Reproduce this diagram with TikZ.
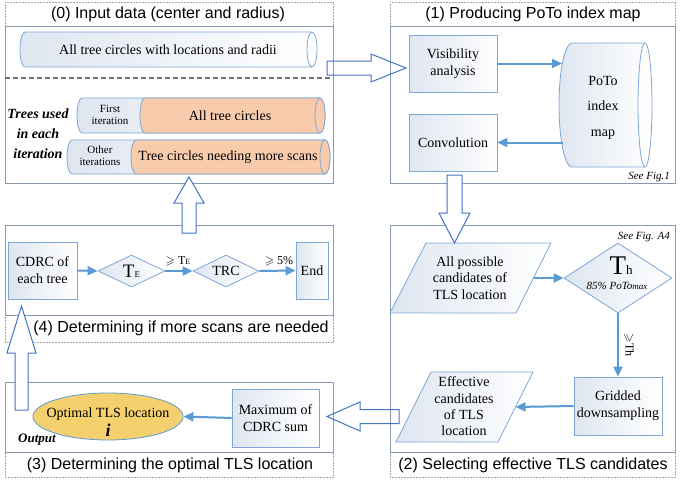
\documentclass[tikz,border=0pt]{standalone}
\usepackage{amssymb}
\usepackage{fontspec}
\setmainfont{Liberation Serif}
\newfontfamily\titlefont{Liberation Sans}
\usetikzlibrary{shapes.geometric,arrows.meta,calc}
\definecolor{lblue}{HTML}{5B9BD5}
\definecolor{bborder}{HTML}{7EA6D6}
\definecolor{panelgray}{HTML}{8A9AAE}
\definecolor{dotgray}{HTML}{A6A6A6}
\definecolor{orangef}{HTML}{F8CBAD}
\definecolor{yellowf}{HTML}{F4D06F}
\definecolor{hollowc}{HTML}{4472C4}
\definecolor{shadeblue}{HTML}{DFE6F1}
\definecolor{sepgray}{HTML}{6F6F6F}
\newcommand{\cylshape}[7]{%
  \pgfmathsetmacro{\cyry}{(#4-#3)/2}%
  \pgfmathsetmacro{\cycl}{#1+#5}%
  \pgfmathsetmacro{\cycr}{#2-#6}%
  \path[#7] (\cycl,-#3) -- (\cycr,-#3) arc[start angle=90,end angle=-90,x radius=#6pt,y radius=\cyry pt] -- (\cycl,-#4) arc[start angle=270,end angle=90,x radius=#5pt,y radius=\cyry pt] -- cycle;
  \draw[draw=bborder,line width=0.8pt] (\cycr,-#3) arc[start angle=90,end angle=270,x radius=#6pt,y radius=\cyry pt];
}
\begin{document}
\begin{tikzpicture}[x=1pt,y=1pt,
  every node/.style={font=\fontsize{14}{17}\selectfont, inner sep=0pt, align=center},
  panel/.style={draw=panelgray, line width=0.8pt, fill=white},
  titlebox/.style={draw=dotgray, densely dotted, line width=0.5pt},
  ptitle/.style={font=\titlefont\fontsize{16}{18}\selectfont},
  procbox/.style={draw=bborder, line width=0.8pt, left color=shadeblue, right color=white},
  dia/.style={diamond, shape aspect=2, draw=bborder, line width=0.8pt, left color=shadeblue, right color=white},
  shadefill/.style={draw=bborder, line width=0.8pt, left color=shadeblue, right color=white},
  orangefill/.style={draw=bborder, line width=0.8pt, fill=orangef},
  flow/.style={draw=lblue, line width=2pt, -{Triangle[length=10pt,width=9pt]}},
  hollow/.style={draw=hollowc, line width=1pt, line join=miter},
  small/.style={font=\fontsize{11}{12}\selectfont},
  note/.style={font=\itshape\fontsize{11}{12}\selectfont},
  lab/.style={font=\fontsize{12}{14}\selectfont}]
\useasboundingbox (0,0) rectangle (680,-482);
\fill[white] (0,0) rectangle (680,-482);

% ---------- Panel 0 ----------
\draw[titlebox] (5,-2) rectangle (333,-183);
\draw[panel] (5,-26) rectangle (333,-183);
\node[ptitle] (t0) at (168,-14) {(0) Input data (center and radius)};
\cylshape{20}{317}{32}{67}{5}{5}{shadefill}
\node (alltrees) at (168,-50) {All tree circles with locations and radii};
\draw[draw=sepgray, line width=2.8pt, dash pattern=on 5pt off 3pt] (5,-78) -- (330,-78);
\node[font=\bfseries\itshape\fontsize{14}{20}\selectfont] (used) at (38,-134) {Trees used\\in each\\iteration};
\cylshape{77}{325}{98}{133}{5}{5}{shadefill}
\cylshape{140}{325}{98}{133}{5}{5}{orangefill}
\node[small] (first) at (110,-115) {First\\iteration};
\node (allc) at (230,-116) {All tree circles};
\cylshape{67}{330}{140}{174}{5}{5}{shadefill}
\cylshape{131}{330}{140}{174}{5}{5}{orangefill}
\node[small] (other) at (100,-156) {Other\\iterations};
\node (needing) at (228,-157) {Tree circles needing more scans};

% ---------- Panel 1 ----------
\draw[titlebox] (390,-2) rectangle (675,-183);
\draw[panel] (390,-26) rectangle (675,-183);
\node[ptitle] (t1) at (533,-14) {(1) Producing PoTo index map};
\node[procbox, minimum width=88pt, minimum height=57pt] (vis) at (453,-63.5) {Visibility\\analysis};
\node[procbox, minimum width=88pt, minimum height=57pt] (conv) at (453,-142.5) {Convolution};
\cylshape{559}{652}{43}{167}{13}{7}{shadefill}
\node[font=\fontsize{14}{25.5}\selectfont, minimum width=93pt, minimum height=124pt] (poto) at (603,-107.5) {PoTo\\index\\map};
\coordinate (potoin) at (562,-63.5);
\coordinate (potoout) at (563,-142.5);
\draw[flow] (vis.east) -- (potoin);
\draw[flow] (potoout) -- (conv.east);
\node[note, anchor=east] (see1) at (670,-177) {See Fig.1};

% ---------- Panel 2 ----------
\draw[titlebox] (390,-225) rectangle (675,-477);
\draw[panel] (390,-225) rectangle (675,-452);
\node[ptitle] (t2) at (533,-465) {(2) Selecting effective TLS candidates};
\node[note, anchor=east] (seea4) at (670,-237) {See Fig. A4};
\coordinate (p1a) at (426,-243);
\coordinate (p1b) at (551,-243);
\coordinate (p1c) at (516,-313);
\coordinate (p1d) at (390,-313);
\path[shadefill] (p1a) -- (p1b) -- (p1c) -- (p1d) -- cycle;
\path (p1b) -- (p1c) coordinate[pos=0.5] (p1e);
\node[font=\fontsize{14}{16.5}\selectfont] (cand) at (470,-278) {All possible\\candidates of\\TLS location};
\node[dia, minimum width=108pt, minimum height=70pt] (th) at (618,-278) {};
\node (thT) at (621,-266) {{\fontsize{27}{27}\selectfont T}{\fontsize{13}{13}\selectfont h}};
\node[font=\itshape\fontsize{11}{12}\selectfont] (thsub) at (617,-285.5) {85\% PoTo{\fontsize{9}{9}\selectfont max}};
\node[procbox, minimum width=88pt, minimum height=58pt] (grid) at (618,-406) {Gridded\\downsampling};
\coordinate (p2a) at (431,-372);
\coordinate (p2b) at (533,-372);
\coordinate (p2c) at (498,-442);
\coordinate (p2d) at (396,-442);
\path[shadefill] (p2a) -- (p2b) -- (p2c) -- (p2d) -- cycle;
\path (p2b) -- (p2c) coordinate[pos=0.5] (p2e);
\node[font=\fontsize{14}{16.3}\selectfont] (eff) at (464,-406.5) {Effective\\candidates\\of TLS\\location};
\draw[flow] (p1e) -- (th.west);
\draw[flow] (th.south) -- (grid.north);
\node[lab, rotate=-90] (geth) at (629,-345) {$\geqslant$Th};
\draw[flow] (grid.west) -- (p2e);

% ---------- Panel 3 ----------
\draw[titlebox] (5,-382) rectangle (333,-477);
\draw[panel] (5,-382) rectangle (333,-452);
\node[ptitle] (t3) at (170,-465) {(3) Determining the optimal TLS location};
\node[procbox, minimum width=87pt, minimum height=58pt] (maxc) at (275.5,-418) {Maximum of\\CDRC sum};
\node[ellipse, draw=lblue, line width=0.8pt, fill=yellowf, minimum width=150pt, minimum height=47pt] (opt) at (108,-416.5) {};
\node (optT) at (108,-414) {Optimal TLS location};
\node[font=\bfseries\itshape\fontsize{18}{18}\selectfont] (opti) at (108,-430) {i};
\node[font=\bfseries\itshape\fontsize{13}{14}\selectfont] (outp) at (37,-440) {Output};
\draw[flow] (maxc.west) -- (opt.east);

% ---------- Panel 4 ----------
\draw[titlebox] (5,-225) rectangle (333,-342);
\draw[panel] (5,-225) rectangle (333,-315);
\node[ptitle] (t4) at (181,-328) {(4) Determining if more scans are needed};
\node[procbox, minimum width=69pt, minimum height=57pt] (cdrc) at (42.5,-270.5) {CDRC of\\each tree};
\node[dia, minimum width=67pt, minimum height=32pt] (te) at (131.5,-271) {{\fontsize{19}{19}\selectfont T}{\fontsize{9}{9}\selectfont E}};
\node[dia, minimum width=66pt, minimum height=32pt] (trc) at (226,-271) {TRC};
\node[procbox, minimum width=32pt, minimum height=57pt] (endb) at (312,-270.5) {End};
\draw[flow] (cdrc.east) -- (te.west);
\draw[flow] (te.east) -- (trc.west);
\draw[flow] (trc.east) -- (endb.west);
\node[lab] (gete) at (178,-261) {$\geqslant$ T{\fontsize{8}{8}\selectfont E}};
\node[lab] (ge5) at (279,-261) {$\geqslant$ 5\%};

% ---------- Hollow arrows ----------
\draw[hollow] (327,-61) -- (371,-61) -- (371,-54) -- (406,-68) -- (371,-82) -- (371,-75) -- (327,-75) -- cycle;
\draw[hollow, fill=white] (447,-175) -- (462,-175) -- (462,-213) -- (470,-213) -- (454.5,-243) -- (439,-213) -- (447,-213) -- cycle;
\draw[hollow] (399,-409.5) -- (360,-409.5) -- (360,-402) -- (327,-416.5) -- (360,-431) -- (360,-423.5) -- (399,-423.5) -- cycle;
\draw[hollow, fill=white] (15,-410) -- (15,-353) -- (7,-353) -- (21.5,-306) -- (36,-353) -- (28,-353) -- (28,-410) -- cycle;
\draw[hollow, fill=white] (182,-233) -- (182,-203) -- (174,-203) -- (189,-177) -- (204,-203) -- (196,-203) -- (196,-233) -- cycle;
\end{tikzpicture}
\end{document}
